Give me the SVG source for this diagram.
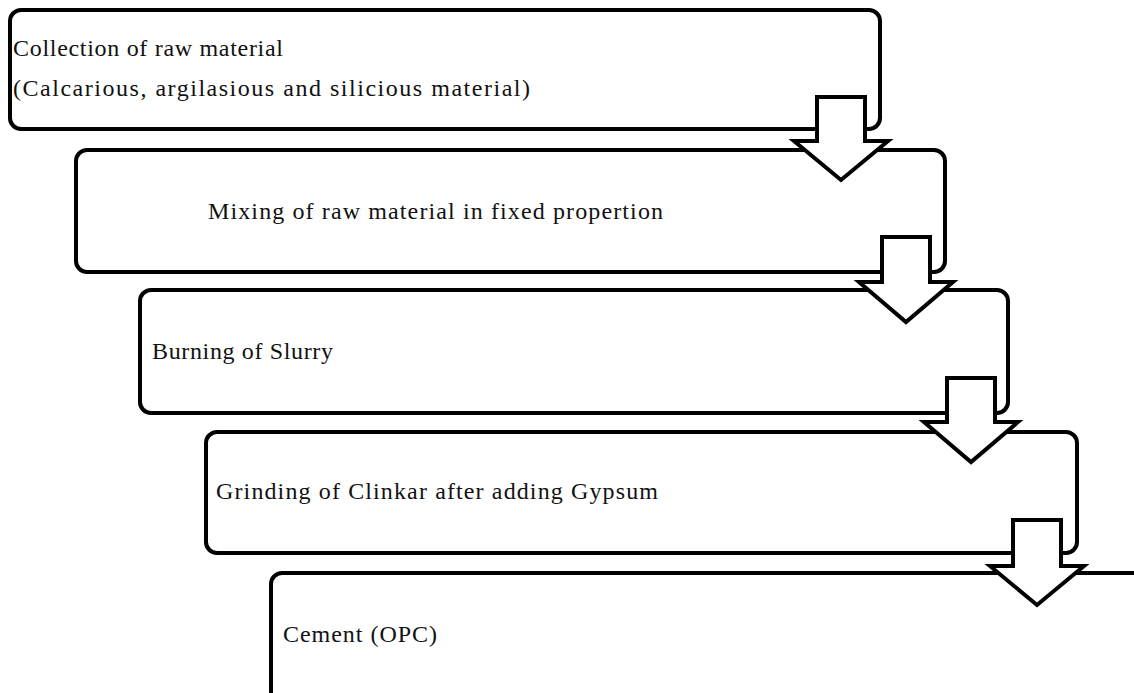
<svg xmlns="http://www.w3.org/2000/svg" width="1134" height="693" viewBox="0 0 1134 693">
<style>
.box{fill:#fff;stroke:#000;stroke-width:4}
.arr{fill:#fff;stroke:#000;stroke-width:4;stroke-linejoin:miter}
.t{font-family:"Liberation Serif","Times New Roman",serif;font-size:24px;fill:#111}
</style>
<rect width="1134" height="693" fill="#fff"/>
<g id="n1"><rect class="box" x="10" y="10" width="870" height="119" rx="11"/>
<text class="t" x="13" y="56" textLength="270" lengthAdjust="spacing">Collection of raw material</text>
<text class="t" x="13" y="96" textLength="517" lengthAdjust="spacing">(Calcarious, argilasious and silicious  material)</text></g>
<g id="n2"><rect class="box" x="76" y="150" width="869" height="122" rx="11"/>
<text class="t" x="208" y="219" textLength="455" lengthAdjust="spacing">Mixing of raw material in  fixed propertion</text></g>
<g id="n3"><rect class="box" x="140" y="290" width="868" height="123" rx="11"/>
<text class="t" x="152" y="359" textLength="181" lengthAdjust="spacing">Burning of Slurry</text></g>
<g id="n4"><rect class="box" x="206" y="432" width="871" height="121" rx="11"/>
<text class="t" x="216" y="499" textLength="442" lengthAdjust="spacing">Grinding of Clinkar after adding Gypsum</text></g>
<g id="n5"><rect class="box" x="271" y="573" width="900" height="200" rx="11"/>
<text class="t" x="283" y="642" textLength="154" lengthAdjust="spacing">Cement (OPC)</text></g>
<g id="connectors">
<polygon class="arr" points="817,97 865,97 865,141 888,141 841,180 794,141 817,141"/>
<polygon class="arr" points="882,237 930,237 930,282 953,282 906,322 859,282 882,282"/>
<polygon class="arr" points="947,378 995,378 995,422 1018,422 971,462 924,422 947,422"/>
<polygon class="arr" points="1013,520 1061,520 1061,566 1084,566 1037,605 990,566 1013,566"/>
</g>
</svg>
